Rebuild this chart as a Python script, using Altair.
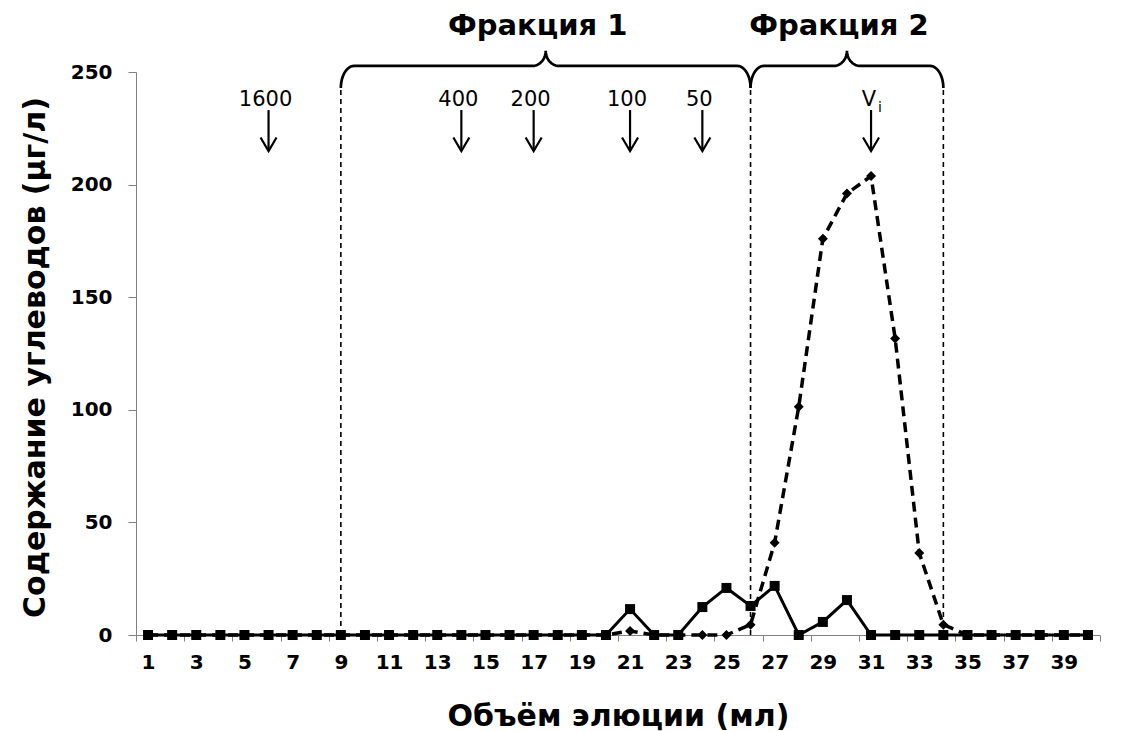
import altair as alt
import numpy as np
import pandas as pd

# Elution volume, ml (one fraction per ml)
volume = list(range(1, 41))

# Carbohydrate content, ug/l: solid curve (squares)
carb_solid = [0, 0, 0, 0, 0, 0, 0, 0, 0, 0,
              0, 0, 0, 0, 0, 0, 0, 0, 0, 0,
              11.5, 0, 0, 12.4, 20.9, 12.9, 21.8, 0, 5.8, 15.5,
              0, 0, 0, 0, 0, 0, 0, 0, 0, 0]

# Carbohydrate content, ug/l: dashed curve (diamonds)
carb_dashed = [0, 0, 0, 0, 0, 0, 0, 0, 0, 0,
               0, 0, 0, 0, 0, 0, 0, 0, 0, 0,
               1.8, 0, 0, 0, 0, 4.6, 41.0, 101.4, 176.0, 196.0,
               203.8, 131.7, 36.4, 4.6, 0, 0, 0, 0, 0, 0]

# Calibration markers (kDa) and the inner volume
marker_labels = ["1600", "400", "200", "100", "50"]
marker_volume = [6, 14, 17, 21, 24]
vi_volume = 31

# Pooled fractions
fraction_names = ["Фракция 1", "Фракция 2"]
fraction_start = [9, 26]
fraction_end = [26, 34]

FONT = "DejaVu Sans"
W, H = 964, 563
X_DOMAIN = [0.5, 40.5]
Y_DOMAIN = [0, 250]

# heights (in data units) used by the annotations above the curves
Y_BRACE_END = 242.9
Y_BRACE_BAR = 252.7
Y_BRACE_TIP = 259.4
Y_FRACTION_TEXT = 270.4
Y_MARKER_TEXT = 237.6
Y_ARROW_TOP = 233.1
Y_ARROW_TIP = 214.9

curves = pd.DataFrame({"volume": volume, "solid": carb_solid, "dashed": carb_dashed})


def brace_points(x0, x1, r=0.55, r2=0.55, n=14):
    """Curly brace spanning x0..x1, opening downwards."""
    xc = (x0 + x1) / 2
    t = np.linspace(0, np.pi / 2, n)
    c1x = x0 + r - r * np.cos(t)
    c1y = Y_BRACE_END + (Y_BRACE_BAR - Y_BRACE_END) * np.sin(t)
    c2x = xc - r2 + r2 * np.sin(t)
    c2y = Y_BRACE_BAR + (Y_BRACE_TIP - Y_BRACE_BAR) * (1 - np.cos(t))
    c3x = 2 * xc - c2x[::-1]
    c3y = c2y[::-1]
    c4x = 2 * xc - c1x[::-1]
    c4y = c1y[::-1]
    xs = np.concatenate([c1x, c2x, c3x, c4x])
    ys = np.concatenate([c1y, c2y, c3y, c4y])
    return xs, ys


brace_rows = []
for name, a, b in zip(fraction_names, fraction_start, fraction_end):
    xs, ys = brace_points(a, b)
    for i, (bx, by) in enumerate(zip(xs, ys)):
        brace_rows.append({"brace": name, "i": i, "x": bx, "y": by})
braces = pd.DataFrame(brace_rows)

fractions = pd.DataFrame({
    "name": fraction_names,
    "mid": [(a + b) / 2 for a, b in zip(fraction_start, fraction_end)],
    "y": [Y_FRACTION_TEXT] * len(fraction_names),
})

bounds = sorted(set(fraction_start + fraction_end))
borders = pd.DataFrame({"x": bounds, "y": [0] * len(bounds), "y2": [Y_BRACE_END] * len(bounds)})

arrow_x = marker_volume + [vi_volume]
arrows = pd.DataFrame({
    "x": arrow_x,
    "top": [Y_ARROW_TOP] * len(arrow_x),
    "tip": [Y_ARROW_TIP] * len(arrow_x),
})
marker_text = pd.DataFrame({
    "x": marker_volume,
    "label": marker_labels,
    "y": [Y_MARKER_TEXT] * len(marker_volume),
})
vi_text = pd.DataFrame({"x": [vi_volume], "y": [Y_MARKER_TEXT]})

x_ticks = [v - 0.5 for v in volume] + [volume[-1] + 0.5]
half_cat = W / len(volume) / 2

x_axis = alt.Axis(
    values=x_ticks,
    labelExpr="((datum.value + 0.5) % 2 == 1) && datum.value < 40 ? format(datum.value + 0.5, 'd') : ''",
    labelOffset=half_cat,
    labelFont=FONT, labelFontWeight="bold", labelFontSize=20, labelColor="black",
    labelPadding=11, labelOverlap=False, labelBound=False, labelFlush=False,
    tickSize=6, tickColor="#808080", domainColor="#808080",
    grid=False,
    title="Объём элюции (мл)",
    titleFont=FONT, titleFontWeight="bold", titleFontSize=30, titleColor="black",
    titleX=W / 2, titleY=81, titleBaseline="middle", titleAlign="center",
)
y_axis = alt.Axis(
    values=[0, 50, 100, 150, 200, 250],
    labelFont=FONT, labelFontWeight="bold", labelFontSize=20, labelColor="black",
    labelPadding=16,
    tickSize=8, tickColor="#808080", domainColor="#808080",
    grid=False,
    title="Содержание углеводов (μг/л)",
    titleFont=FONT, titleFontWeight="bold", titleFontSize=30, titleColor="black",
    titleX=-101, titleY=285, titleAngle=270, titleBaseline="middle", titleAlign="center",
)

xs = alt.Scale(domain=X_DOMAIN, nice=False, zero=False)
ys = alt.Scale(domain=Y_DOMAIN, nice=False)

base = alt.Chart(curves).encode(
    x=alt.X("volume:Q", scale=xs, axis=x_axis),
)

dashed_line = base.mark_line(color="black", strokeWidth=3.5, strokeDash=[10, 6]).encode(
    y=alt.Y("dashed:Q", scale=ys, axis=y_axis)
)
dashed_pts = base.mark_point(shape="diamond", filled=True, color="black", size=100, opacity=1).encode(
    y=alt.Y("dashed:Q", scale=ys)
)
solid_line = base.mark_line(color="black", strokeWidth=3).encode(y=alt.Y("solid:Q", scale=ys))
solid_pts = base.mark_point(shape="square", filled=True, color="black", size=100, opacity=1).encode(
    y=alt.Y("solid:Q", scale=ys)
)

border_rules = alt.Chart(borders).mark_rule(color="black", strokeWidth=1.6, strokeDash=[5, 4]).encode(
    x=alt.X("x:Q", scale=xs), y=alt.Y("y:Q", scale=ys), y2="y2:Q"
)

brace_lines = alt.Chart(braces).mark_line(color="black", strokeWidth=2.7).encode(
    x=alt.X("x:Q", scale=xs), y=alt.Y("y:Q", scale=ys), detail="brace:N", order="i:Q"
)

fraction_labels = alt.Chart(fractions).mark_text(
    font=FONT, fontWeight="bold", fontSize=29, fill="black", baseline="middle", align="center", dx=-8
).encode(x=alt.X("mid:Q", scale=xs), y=alt.Y("y:Q", scale=ys), text="name:N")

arrow_shafts = alt.Chart(arrows).mark_rule(color="black", strokeWidth=2.2).encode(
    x=alt.X("x:Q", scale=xs), y=alt.Y("top:Q", scale=ys), y2="tip:Q"
)
arrow_heads = alt.Chart(arrows).mark_point(
    shape="M-1,-1.7L0,0L1,-1.7", filled=False, color="black", strokeWidth=2.2, size=256, opacity=1
).encode(x=alt.X("x:Q", scale=xs), y=alt.Y("tip:Q", scale=ys))

marker_labels_layer = alt.Chart(marker_text).mark_text(
    font=FONT, fontSize=21, fill="black", baseline="middle", align="center", dx=-3
).encode(x=alt.X("x:Q", scale=xs), y=alt.Y("y:Q", scale=ys), text="label:N")

vi_main = alt.Chart(vi_text).mark_text(
    font=FONT, fontSize=21, fill="black", baseline="middle", align="center", dx=-2, text="V"
).encode(x=alt.X("x:Q", scale=xs), y=alt.Y("y:Q", scale=ys))
vi_sub = alt.Chart(vi_text).mark_text(
    font=FONT, fontSize=14, fill="black", baseline="middle", align="center", dx=9, dy=8, text="i"
).encode(x=alt.X("x:Q", scale=xs), y=alt.Y("y:Q", scale=ys))

chart = alt.layer(
    border_rules, dashed_line, dashed_pts, solid_line, solid_pts,
    brace_lines, fraction_labels, arrow_shafts, arrow_heads,
    marker_labels_layer, vi_main, vi_sub,
).properties(
    width=W, height=H,
    autosize=alt.AutoSizeParams(type="none"),
    padding={"left": 136, "top": 72, "right": 34, "bottom": 96},
    background="white",
).configure_view(stroke=None)

chart.save("out.html", embed_options={"renderer": "svg", "actions": False})
